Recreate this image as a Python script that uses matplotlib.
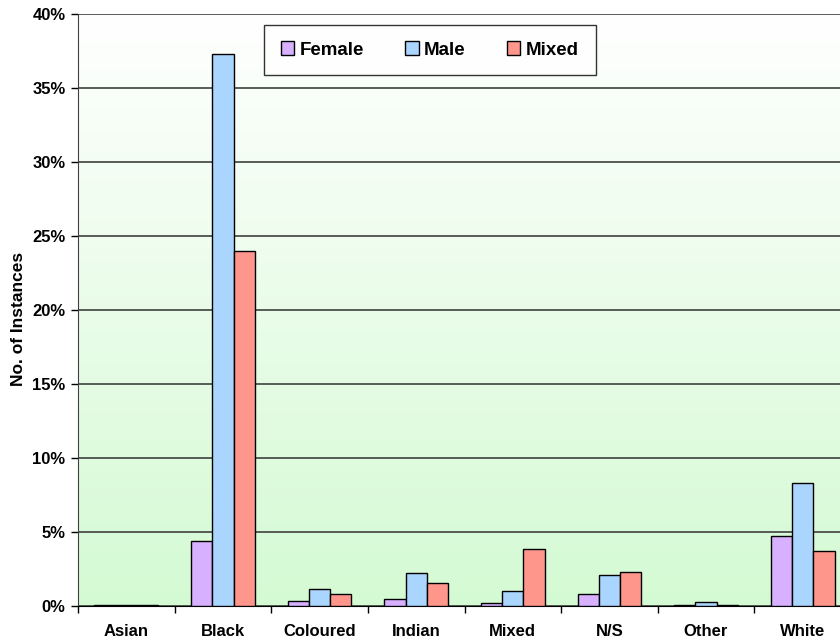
import numpy as np
import matplotlib
matplotlib.use("Agg")
import matplotlib.pyplot as plt
from matplotlib.ticker import FuncFormatter, MultipleLocator

plt.rcParams['font.family'] = ['Liberation Sans', 'DejaVu Sans']
plt.rcParams['font.weight'] = 'bold'

categories = ["Asian", "Black", "Coloured", "Indian", "Mixed", "N/S", "Other", "White"]
female = [0.07, 4.4, 0.32, 0.46, 0.17, 0.81, 0.07, 4.73]
male = [0.07, 37.3, 1.15, 2.22, 0.98, 2.08, 0.30, 8.3]
mixed = [0.07, 24.0, 0.83, 1.57, 3.85, 2.3, 0.07, 3.72]
series_names = ["Female", "Male", "Mixed"]
series_colors = ["#d7b0ff", "#aad5ff", "#ff968c"]

fig = plt.figure(figsize=(8.4, 6.44), dpi=100)
ax = fig.add_axes([78 / 840, 38 / 644, 773 / 840, 592 / 644])

# vertical gradient background: white at the top, pale green at the bottom
grad = np.linspace(0, 1, 256).reshape(-1, 1)
top = np.array([1.0, 1.0, 1.0])
bottom = np.array([0xd4, 0xfa, 0xd3]) / 255
img = top + (bottom - top) * grad[:, :, None]
ax.imshow(img, extent=[0, 1, 0, 1], transform=ax.transAxes, aspect='auto', zorder=0)

x = np.arange(len(categories))
w = 0.22
for i, (vals, name, col) in enumerate(zip([female, male, mixed], series_names, series_colors)):
    ax.bar(x + (i - 1) * w, vals, width=w, color=col, edgecolor='black',
           linewidth=1.0, label=name, zorder=3)

ax.set_xlim(-0.5, len(categories) - 0.5)
ax.set_ylim(0, 40)
ax.yaxis.set_major_locator(MultipleLocator(5))
ax.yaxis.set_major_formatter(FuncFormatter(lambda v, p: f"{v:.0f}%"))
ax.yaxis.grid(True, color='#303030', linewidth=1.1, zorder=1)
ax.set_axisbelow(True)

ax.set_xticks(x)
ax.set_xticklabels(categories, fontsize=12, fontweight='bold')
ax.set_xticks(np.arange(-0.5, len(categories)), minor=True)
ax.tick_params(axis='x', which='major', length=0, pad=13)
ax.tick_params(axis='x', which='minor', length=5, width=1, direction='out')
ax.tick_params(axis='y', length=5, width=1, direction='out', labelsize=12, pad=4)
for lbl in ax.get_yticklabels():
    lbl.set_fontweight('bold')

for s in ['top', 'right']:
    ax.spines[s].set_visible(False)
ax.spines['left'].set_color('#404040')
ax.spines['bottom'].set_color('black')

ax.set_ylabel("No. of Instances", fontsize=12.5, fontweight='bold')
ax.yaxis.set_label_coords(-52 / 773, 0.485)

leg = ax.legend(loc='center', bbox_to_anchor=(430 / 840, 1 - 50 / 644),
                bbox_transform=fig.transFigure, ncol=3, frameon=True, fancybox=False,
                handlelength=0.7, handleheight=0.7, handletextpad=0.3, columnspacing=2.2,
                prop={'size': 13.5, 'weight': 'bold'}, borderpad=0.9)
leg.get_frame().set_edgecolor('black')
leg.get_frame().set_linewidth(1.0)
leg.set_zorder(5)

fig.savefig("out.png", dpi=100)
